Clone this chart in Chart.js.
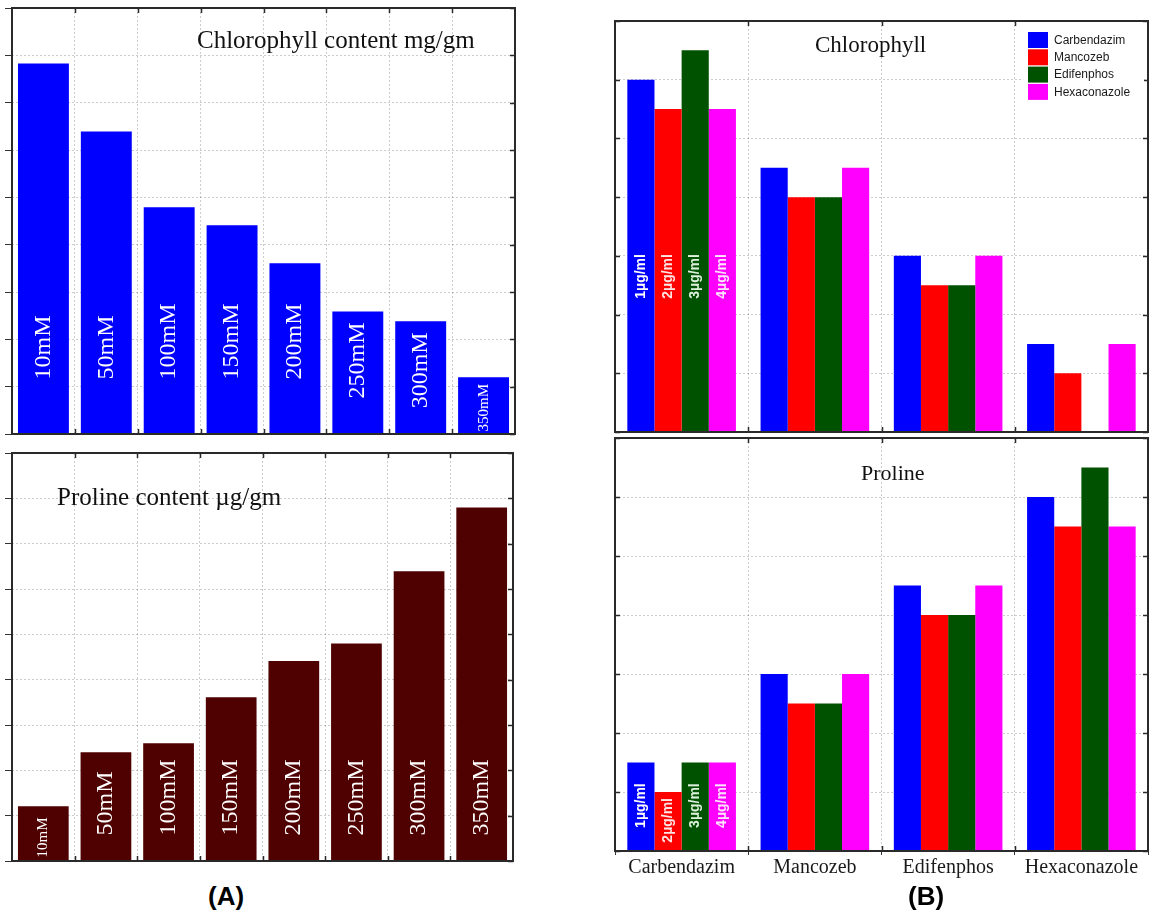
<!DOCTYPE html>
<html>
<head>
<meta charset="utf-8">
<script src="https://cdn.jsdelivr.net/npm/chart.js@4/dist/chart.umd.min.js"></script>
<style>
  body { margin: 0; background: #fff; }
  #page { position: relative; width: 1149px; height: 916px; overflow: hidden; background: #fff; }
  canvas { position: absolute; }
  .ttl { position: absolute; font-family: "Liberation Serif", "Times New Roman", serif; color: #111; line-height: 1; white-space: nowrap; }
  .pan { position: absolute; font-family: "Liberation Sans", Arial, sans-serif; font-weight: bold; font-size: 26px; line-height: 1; color: #000; }
</style>
</head>
<body>
<div id="page">
  <canvas id="a1" width="520" height="440" style="left:0;top:0"></canvas>
  <canvas id="a2" width="520" height="425" style="left:0;top:445px"></canvas>
  <canvas id="b1" width="549" height="425" style="left:600px;top:10px"></canvas>
  <canvas id="b2" width="549" height="452" style="left:600px;top:430px"></canvas>

  <div class="ttl" style="left:197px;top:27px;font-size:25px">Chlorophyll content mg/gm</div>
  <div class="ttl" style="left:57px;top:484px;font-size:25px">Proline content µg/gm</div>
  <div class="ttl" style="left:815px;top:33px;font-size:23px">Chlorophyll</div>
  <div class="ttl" style="left:861px;top:462px;font-size:22px">Proline</div>
  <div class="pan" style="left:208px;top:883px">(A)</div>
  <div class="pan" style="left:908px;top:883px">(B)</div>
</div>
<script>
// salt stress (A)
const saltLevels = ["10mM", "50mM", "100mM", "150mM", "200mM", "250mM", "300mM", "350mM"];
const chlorophyllA = [7.83, 6.39, 4.79, 4.41, 3.61, 2.59, 2.38, 1.20];
const prolineA = [1.21, 2.40, 2.60, 3.61, 4.41, 4.80, 6.39, 7.80];

// fungicides (B)
const fungicides = ["Carbendazim", "Mancozeb", "Edifenphos", "Hexaconazole"];
const doses = ["1µg/ml", "2µg/ml", "3µg/ml", "4µg/ml"];
const chlCarbendazim = [6.0, 4.5, 3.0, 1.5];
const chlMancozeb = [5.5, 4.0, 2.5, 1.0];
const chlEdifenphos = [6.5, 4.0, 2.5, 0];
const chlHexaconazole = [5.5, 4.5, 3.0, 1.5];
const proCarbendazim = [1.5, 3.0, 4.5, 6.0];
const proMancozeb = [1.0, 2.5, 4.0, 5.5];
const proEdifenphos = [1.5, 2.5, 4.0, 6.5];
const proHexaconazole = [1.5, 3.0, 4.5, 5.5];

const serif = '"Liberation Serif", "Times New Roman", serif';
const sans = '"Liberation Sans", Arial, sans-serif';
const gridColor = "rgba(0,0,0,0.2)";
const seriesColors = ["#0000ff", "#ff0000", "#005200", "#ff00ff"];
const doseTextColors = ["#ffffff", "#ffe4e4", "#dcf0dc", "#ffe4ff"];

// box round the plot, with small inner ticks
const framePlugin = {
  id: "frame",
  afterDatasetsDraw(chart, args, o) {
    const { ctx, chartArea: a } = chart;
    const x = chart.scales.x, y = chart.scales.y;
    ctx.save();
    ctx.strokeStyle = "#2a2a2a";
    ctx.lineWidth = 1.5;
    ctx.beginPath();
    for (let i = 0; i < x.ticks.length - 1; i++) {
      const px = Math.round((x.getPixelForTick(i) + x.getPixelForTick(i + 1)) / 2) + 0.5;
      ctx.moveTo(px, a.top); ctx.lineTo(px, a.top + 5);
      ctx.moveTo(px, a.bottom); ctx.lineTo(px, a.bottom - 5);
    }
    y.ticks.forEach((t, i) => {
      const py = Math.round(y.getPixelForTick(i)) + 0.5;
      ctx.moveTo(a.right, py); ctx.lineTo(a.right - 5, py);
      if (o.leftTicks) { ctx.moveTo(a.left, py); ctx.lineTo(a.left + 5, py); }
    });
    ctx.stroke();
    ctx.lineWidth = 2;
    ctx.strokeRect(a.left, a.top, a.right - a.left, a.bottom - a.top);
    ctx.restore();
  }
};

function drawUp(ctx, text, x, end, color) {
  ctx.save();
  ctx.translate(x, end);
  ctx.rotate(-Math.PI / 2);
  ctx.textAlign = "left";
  ctx.textBaseline = "middle";
  ctx.fillStyle = color;
  ctx.fillText(text, 0, 0);
  ctx.restore();
}

// rotated labels written inside the bars
const barTextPlugin = {
  id: "barText",
  afterDatasetsDraw(chart, args, o) {
    const ctx = chart.ctx;
    if (o.mode === "category") {
      chart.getDatasetMeta(0).data.forEach((bar, i) => {
        const text = chart.data.labels[i];
        const h = bar.base - bar.y;
        ctx.font = o.size + "px " + serif;
        let len = ctx.measureText(text).width;
        let end;
        if (len + 14 > h) {
          ctx.font = o.smallSize + "px " + serif;
          len = ctx.measureText(text).width;
          end = bar.base - o.smallGap;
        } else {
          end = Math.max(bar.y + 11, bar.base - o.endGap - len) + len;
        }
        drawUp(ctx, text, bar.x, end, "#ffffff");
      });
    } else if (o.mode === "dose") {
      const cy = chart.scales.y.getPixelForValue(o.centerValue);
      chart.data.datasets.forEach((ds, i) => {
        const bar = chart.getDatasetMeta(i).data[0];
        ctx.font = "bold 14px " + sans;
        const len = ctx.measureText(doses[i]).width;
        const start = Math.max(bar.y + 6, cy - len / 2);
        drawUp(ctx, doses[i], bar.x, start + len, doseTextColors[i]);
      });
    }
  }
};

// legend box inside the plot, top right
const boxLegendPlugin = {
  id: "boxLegend",
  afterDraw(chart, args, o) {
    if (!o.show) return;
    const { ctx, chartArea: a } = chart;
    const x0 = a.right - 126, y0 = a.top + 6;
    ctx.save();
    ctx.fillStyle = "#fff";
    ctx.fillRect(x0, y0, 122, 80);
    ctx.font = "12px " + sans;
    ctx.textBaseline = "middle";
    chart.data.datasets.forEach((ds, i) => {
      const sy = y0 + 5 + i * 17.3;
      ctx.fillStyle = ds.backgroundColor;
      ctx.fillRect(x0 + 6, sy, 20, 16);
      ctx.fillStyle = "#1a1a1a";
      ctx.fillText(ds.label, x0 + 32, sy + 8.5);
    });
    ctx.restore();
  }
};

function saltChart(id, values, color, pad, yMax, labelOpts) {
  return new Chart(document.getElementById(id), {
    type: "bar",
    data: {
      labels: saltLevels,
      datasets: [{
        data: values,
        backgroundColor: color,
        borderWidth: 0,
        barPercentage: 1,
        categoryPercentage: 0.81
      }]
    },
    options: {
      responsive: false,
      animation: false,
      devicePixelRatio: 1,
      layout: { padding: pad },
      scales: {
        x: {
          grid: { offset: true, color: gridColor, drawTicks: false },
          border: { display: false, dash: [2, 2] },
          ticks: { display: false }
        },
        y: {
          min: 0,
          max: yMax,
          ticks: { display: false, stepSize: 1 },
          grid: { color: gridColor, tickColor: "#333", tickLength: 7 },
          border: { display: false, dash: [2, 2] }
        }
      },
      plugins: {
        legend: { display: false },
        tooltip: { enabled: false },
        frame: { leftTicks: false },
        barText: labelOpts
      }
    },
    plugins: [framePlugin, barTextPlugin]
  });
}

saltChart("a1", chlorophyllA, "#0000ff", { left: 5, top: 8, right: 5, bottom: 6 }, 9,
  { mode: "category", size: 24, smallSize: 15, endGap: 54, smallGap: 2 });
saltChart("a2", prolineA, "#4f0000", { left: 5, top: 8, right: 7, bottom: 9 }, 9,
  { mode: "category", size: 24, smallSize: 15, endGap: 25, smallGap: 3 });

function fungChart(id, series, pad, showLabels, labelCenter, showLegend) {
  return new Chart(document.getElementById(id), {
    type: "bar",
    data: {
      labels: fungicides,
      datasets: series.map((vals, i) => ({
        label: fungicides[i],
        data: vals,
        backgroundColor: seriesColors[i],
        borderWidth: 0,
        barPercentage: 1,
        categoryPercentage: 0.815
      }))
    },
    options: {
      responsive: false,
      animation: false,
      devicePixelRatio: 1,
      layout: { padding: pad },
      scales: {
        x: {
          grid: { offset: true, color: gridColor, drawTicks: showLabels, tickLength: 4, tickColor: "#333" },
          border: { display: false, dash: [2, 2] },
          ticks: {
            display: showLabels,
            padding: 1,
            maxRotation: 0,
            autoSkip: false,
            color: "#1a1a1a",
            font: { family: serif, size: 20 }
          }
        },
        y: {
          min: 0,
          max: 7,
          ticks: { display: false, stepSize: 1 },
          grid: { color: gridColor, drawTicks: false },
          border: { display: false, dash: [2, 2] }
        }
      },
      plugins: {
        legend: { display: false },
        tooltip: { enabled: false },
        frame: { leftTicks: true },
        barText: { mode: "dose", centerValue: labelCenter },
        boxLegend: { show: showLegend }
      }
    },
    plugins: [framePlugin, barTextPlugin, boxLegendPlugin]
  });
}

fungChart("b1", [chlCarbendazim, chlMancozeb, chlEdifenphos, chlHexaconazole],
  { left: 15, top: 11, right: 1, bottom: 3 }, false, 2.65, true);
fungChart("b2", [proCarbendazim, proMancozeb, proEdifenphos, proHexaconazole],
  { left: 15, top: 8, right: 1, bottom: 1 }, true, 0.77, false);
</script>
</body>
</html>
